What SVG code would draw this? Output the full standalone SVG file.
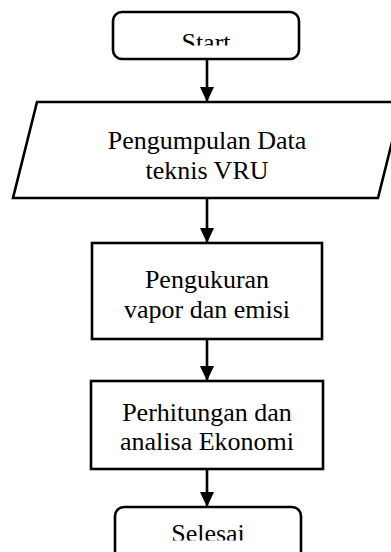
<svg xmlns="http://www.w3.org/2000/svg" width="391" height="552" viewBox="0 0 391 552">
<style>
.shape{fill:#fff;stroke:#000;stroke-width:2.6}
.t{font-family:"Liberation Serif","Times New Roman",serif;font-size:26px;fill:#000;text-anchor:middle}
.c{stroke:#000;stroke-width:2.6;fill:none}
</style>
<defs>
<marker id="ah" markerUnits="userSpaceOnUse" markerWidth="16" markerHeight="14" refX="15" refY="7" orient="auto">
<path d="M0,0 L15,7 L0,14 Z" fill="#000"/>
</marker>
<clipPath id="clipStart"><rect x="113" y="12" width="186" height="33.5"/></clipPath>
<clipPath id="clipEnd"><rect x="115" y="507" width="186" height="33.5"/></clipPath>
</defs>
<rect width="391" height="552" fill="#fff"/>
<g id="connectors">
<line class="c" x1="207" y1="59" x2="207" y2="102" marker-end="url(#ah)"/>
<line class="c" x1="207" y1="198" x2="207" y2="243" marker-end="url(#ah)"/>
<line class="c" x1="207" y1="339" x2="207" y2="381" marker-end="url(#ah)"/>
<line class="c" x1="207" y1="469" x2="207" y2="507" marker-end="url(#ah)"/>
</g>
<g id="start">
<rect class="shape" x="113" y="12" width="186" height="47" rx="9"/>
<text class="t" x="206" y="50.5" clip-path="url(#clipStart)">Start</text>
</g>
<g id="input">
<polygon class="shape" points="37,102 402,102 378,198 13,198"/>
<text class="t" x="207" y="149">Pengumpulan Data</text>
<text class="t" x="207" y="179">teknis VRU</text>
</g>
<g id="measure">
<rect class="shape" x="92" y="243" width="230" height="96"/>
<text class="t" x="207" y="288">Pengukuran</text>
<text class="t" x="207" y="318">vapor dan emisi</text>
</g>
<g id="calc">
<rect class="shape" x="91" y="381" width="232" height="88"/>
<text class="t" x="207" y="421">Perhitungan dan</text>
<text class="t" x="207" y="450">analisa Ekonomi</text>
</g>
<g id="end">
<rect class="shape" x="115" y="507" width="186" height="60" rx="9"/>
<text class="t" x="208" y="542" clip-path="url(#clipEnd)">Selesai</text>
</g>
</svg>
